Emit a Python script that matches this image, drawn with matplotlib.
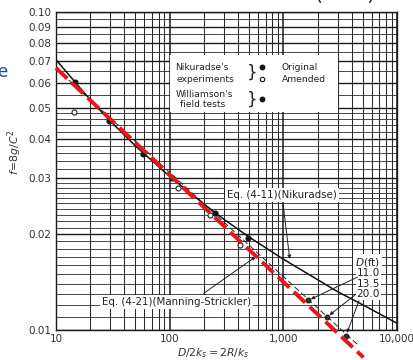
import numpy as np
import matplotlib
matplotlib.use("Agg")
import matplotlib.pyplot as plt
from matplotlib.patches import Rectangle

# Eq. (4-11) Nikuradse curve
nik_x = [10, 15, 20, 30, 50, 100, 200, 300, 500, 1000, 2000, 3000, 5000, 10000]
nik_f = [0.0708, 0.0597, 0.0530, 0.0454, 0.0379, 0.0304, 0.0249, 0.0223,
         0.0196, 0.0167, 0.0144, 0.0132, 0.0120, 0.0105]

# Eq. (4-21) Manning-Strickler (thin dashed) and the red overlay line
manning_x = [10, 4500]
manning_f = [0.0665, 0.0090]
red_x = [10, 5070]
red_f = [0.0667, 0.0082]

# Nikuradse's experiments
orig_x = [14.7, 29.3, 58, 105, 252, 489]
orig_f = [0.0603, 0.0454, 0.0358, 0.0301, 0.0233, 0.0195]
amend_x = [14.3, 119, 227, 418]
amend_f = [0.0485, 0.0280, 0.0230, 0.0185]

# Williamson's field tests
will_x = [1658, 2437, 3557]
will_f = [0.0124, 0.0110, 0.0096]
will_d = ["11.0", "13.5", "20.0"]

x_ticks = [10, 100, 1000, 10000]
x_labels = ["10", "100", "1,000", "10,000"]
y_ticks = [0.01, 0.02, 0.03, 0.04, 0.05, 0.06, 0.07, 0.08, 0.09, 0.10]
y_labels = ["0.01", "0.02", "0.03", "0.04", "0.05", "0.06", "0.07", "0.08", "0.09", "0.10"]

W, H = 413, 360
fig = plt.figure(figsize=(W / 100, H / 100), dpi=100)
ax = fig.add_axes([56 / W, 30 / H, 341 / W, 318 / H])
ax.set_xscale("log")
ax.set_yscale("log")
ax.set_xlim(10, 10000)
ax.set_ylim(0.01, 0.10)

# graph paper grid
x_minor = [k * 10 ** n for n in (1, 2, 3) for k in range(2, 10)]
y_minor = ([round(0.010 + 0.001 * i, 3) for i in range(1, 20) if i != 10]
           + [0.032, 0.034, 0.036, 0.038, 0.042, 0.044, 0.046, 0.048]
           + [0.055, 0.065, 0.075, 0.085, 0.095])
for v in x_minor:
    ax.axvline(v, color="#2a2a2a", lw=0.75, zorder=1)
for v in y_minor:
    ax.axhline(v, color="#2a2a2a", lw=0.6, zorder=1)
for v in x_ticks:
    ax.axvline(v, color="#1a1a1a", lw=1.1, zorder=1)
for v in y_ticks:
    ax.axhline(v, color="#1a1a1a", lw=1.0, zorder=1)

ax.set_xticks(x_ticks)
ax.set_xticklabels(x_labels)
ax.set_yticks(y_ticks)
ax.set_yticklabels(y_labels)
ax.xaxis.set_minor_locator(matplotlib.ticker.NullLocator())
ax.yaxis.set_minor_locator(matplotlib.ticker.NullLocator())
ax.tick_params(length=0, labelsize=7.5, colors="#333333", pad=3)
for s in ax.spines.values():
    s.set_color("#1a1a1a")
    s.set_linewidth(1.0)

# legend block (white panel)
ax.add_patch(Rectangle((0.334, 0.686), 0.493, 0.179, transform=ax.transAxes,
                       facecolor="white", edgecolor="none", zorder=2))
tk = dict(transform=ax.transAxes, fontsize=6.6, color="#222222", va="center", zorder=3)
ax.text(0.349, 0.827, "Nikuradse's", **tk)
ax.text(0.352, 0.789, "experiments", **tk)
ax.text(0.352, 0.742, "Williamson's", **tk)
ax.text(0.364, 0.708, "field tests", **tk)
ax.text(0.575, 0.808, "}", transform=ax.transAxes, fontsize=12, va="center",
        ha="center", color="#222222", zorder=3)
ax.text(0.575, 0.725, "}", transform=ax.transAxes, fontsize=12, va="center",
        ha="center", color="#222222", zorder=3)
ax.plot([0.604], [0.827], "o", ms=3.2, color="#111111", transform=ax.transAxes, zorder=3)
ax.plot([0.604], [0.789], "o", ms=3.2, mfc="white", mec="#111111", mew=0.8,
        transform=ax.transAxes, zorder=3)
ax.plot([0.604], [0.726], "o", ms=3.2, color="#111111", transform=ax.transAxes, zorder=3)
ax.text(0.662, 0.827, "Original", **tk)
ax.text(0.662, 0.789, "Amended", **tk)

# curves
ax.plot(nik_x, nik_f, color="#111111", lw=1.1, zorder=4)
ax.plot(manning_x, manning_f, color="#222222", lw=0.7, ls=(0, (6, 3)),
        zorder=4, clip_on=False)
ax.plot(orig_x, orig_f, "o", ms=3.4, color="#111111", zorder=5)
ax.plot(amend_x, amend_f, "o", ms=3.6, mfc="white", mec="#222222", mew=0.8, zorder=5)
ax.plot(will_x, will_f, "o", ms=3.4, mfc="#333333", mec="#111111", mew=0.8,
        zorder=5, clip_on=False)

# annotations
box = dict(facecolor="white", edgecolor="none", pad=1.5)
arr = dict(arrowstyle="-|>", color="#222222", lw=0.7, mutation_scale=5)
ax.annotate("Eq. (4-11)(Nikuradse)", xy=(1146, 0.0164), xytext=(973, 0.0266),
            fontsize=7.4, ha="center", va="center", color="#222222",
            bbox=box, arrowprops=arr, zorder=6)
ax.annotate("Eq. (4-21)(Manning-Strickler)", xy=(598, 0.0172), xytext=(114, 0.01225),
            fontsize=7.4, ha="center", va="center", color="#222222",
            bbox=box, arrowprops=dict(arr, relpos=(0.65, 1.0)), zorder=6)
ax.text(7080, 0.01626, "$D$(ft)", fontsize=7.6, ha="right", va="center",
        color="#222222", bbox=box, zorder=6)
lab_f = [0.01510, 0.01395, 0.01298]
start_x = [4720, 5225, 4720]
start_f = [0.01478, 0.01365, 0.01260]
for d, lf, sx, sf, px_, pf in zip(will_d, lab_f, start_x, start_f, will_x, will_f):
    ax.text(7080, lf, d, fontsize=7.6, ha="right", va="center", color="#222222",
            bbox=dict(facecolor="white", edgecolor="none", pad=0.6), zorder=6)
    ax.annotate("", xy=(px_, pf), xytext=(sx, sf),
                arrowprops=dict(arr), annotation_clip=False, zorder=6)

# red overlay
ax.plot(red_x, red_f, color="#e8161b", lw=2.8, ls=(0, (4.0, 1.6)),
        zorder=7, clip_on=False)

# axis labels
fig.text(213 / W, 1 - 353 / H, "$D/2k_s = 2R/k_s$", fontsize=7.8,
         ha="center", va="center", color="#333333")
fig.text(15 / W, 1 - 152 / H, "$f\\!=\\!8g/C^2$", fontsize=7.8, rotation=90,
         ha="center", va="center", color="#333333")

# clipped fragments at the image edges
fig.text(-3 / W, 1 - 72 / H, "e", fontsize=12, color="#2050a0",
         ha="left", va="center")
fig.text(318 / W, 1.0, "(", fontsize=15, color="#333333", ha="center", va="baseline")
fig.text(370 / W, 1.0, ")", fontsize=15, color="#333333", ha="center", va="baseline")

fig.savefig("out.png", dpi=100)
